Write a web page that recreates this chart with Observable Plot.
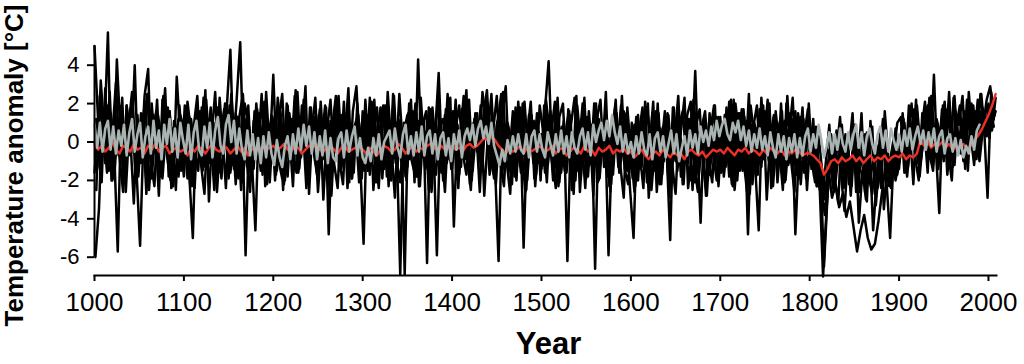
<!DOCTYPE html>
<html><head><meta charset="utf-8">
<script src="https://cdn.jsdelivr.net/npm/d3@7"></script>
<script src="https://cdn.jsdelivr.net/npm/@observablehq/plot@0.6"></script>
<style>html,body{margin:0;padding:0;background:#fff;} #chart svg{display:block;}</style>
</head><body><div id="chart"></div>
<script>
const FONT = "'Liberation Sans', Arial, Helvetica, sans-serif";
const yearTicks = [1000, 1100, 1200, 1300, 1400, 1500, 1600, 1700, 1800, 1900, 2000];
const tempTicks = [-6, -4, -2, 0, 2, 4];

// Black reconstructions: sampled every 4 years, staggered start years
const blackStep = 4;
const blackStarts = [1000, 1001, 1002, 1003, 1002, 1000];
const blackA = [
  5.0, 1.2, -2.1, 2.8, -1.5, 0.4, 3.1, -0.8, -2.6, 1.9, 0.3, -3.2, 1.4, -1.1, 2.4, 3.8, -1.9, 0.6, -2.8, 2.2, -0.4, 1.6, -2.3, 3.4, 0.2,
  -1.8, 2.1, 0.5, -2.4, 1.3, -0.6, 2.7, -3.1, 0.9, -1.2, 2.3, -0.3, 1.8, 4.8, -1.4, 0.7, -2.5, 2.0, 1.1, -0.9, -4.6, 1.5, -1.7, 2.6, -0.5,
  3.5, -1.3, 0.8, -2.2, 1.9, -0.7, 2.4, -1.6, 0.2, 2.9, -2.7, 1.0, -0.4, 1.7, -3.0, 0.6, 2.2, -1.1, -2.4, 1.4, 0.1, 2.8, -1.9, 0.9, -2.1,
  1.6, -0.9, 2.3, -2.5, 0.4, 1.8, -1.4, 2.6, -0.2, -2.9, 1.2, 0.5, -1.8, 2.0, -0.6, 1.5, -2.3, 0.9, -6.3, 1.7, -1.0, 2.4, -0.3, -2.6, 1.1,
  -0.8, 2.2, -1.7, 0.6, 2.7, -2.2, 1.0, -0.5, 1.9, -2.8, 0.3, 2.5, -1.2, -6.2, 1.4, 2.9, -1.5, 0.7, -2.0, 1.8, -5.5, 0.4, 2.1, -1.9, 0.8,
  -1.4, 1.7, 4.2, -0.9, -2.4, 1.3, 2.0, -1.6, 0.5, -2.7, 1.9, -0.2, 2.3, -1.8, 0.9, -6.6, 1.2, -0.7, 2.6, -2.3, 0.3, 1.5, -1.1, -2.9, 1.8,
  -0.5, -2.6, 1.4, -1.3, 2.1, -2.9, 0.2, 1.6, -1.9, 0.8, -0.4, -5.1, 1.8, -1.5, 0.6, 2.3, -2.4, -0.8, 3.7, -1.7, 0.4, -2.8, 1.5, -0.6, -2.0,
  1.3, -1.8, 0.5, 2.2, -2.5, -0.3, 1.7, -1.2, 2.5, -2.2, 0.7, -0.9, 1.9, -3.0, 0.3, 1.4, -1.6, 2.0, -2.1, 0.6, 1.2, -4.8, -0.5, 1.8, -1.9,
  -0.6, 1.2, -2.3, -1.0, -6.5, -2.8, 0.4, -1.9, -3.2, 0.9, -2.0, -0.4, 1.5, -2.6, -1.2, 0.3, -3.1, 1.1, -1.5, -0.2, -2.4, 1.6, -0.8, -2.1, 0.7,
  -1.4, 1.5, -0.8, 0.6, -2.2, 1.9, -0.3, 0.9, -1.6, 2.4, 0.2, -1.1, 1.7, -0.5, 2.6, -1.3, 0.8, 1.9, -0.9, 2.2, 0.4, -1.2, 1.6, 2.5, 0.3,
  1.8, 0.6, 2.3
];
const blackB = [
  -6.0, -3.5, 1.8, -0.9, 2.6, -1.7, 4.3, 0.5, -2.2, 1.3, -0.6, 4.0, -1.8, 0.9, 2.1, -2.5, 0.2, 1.6, -1.3, 2.4, -0.7, -2.0, 1.1, 0.4, -1.5,
  1.9, -0.4, -2.3, 1.2, 0.6, -1.5, 2.2, -0.8, 1.0, -2.6, 0.3, 1.7, -1.1, 2.5, -0.2, -1.9, 1.4, -5.9, 0.8, -1.3, 2.0, -0.5, 1.3, -2.2, 0.6,
  -1.2, 2.3, 0.4, -2.0, 1.5, -0.6, 2.7, -1.4, 0.9, -2.4, 1.8, 0.1, -1.7, 2.1, -0.9, 1.2, -2.8, 0.7, 2.4, -1.0, 0.3, -2.1, 1.6, 2.9, -0.8,
  -5.3, 1.4, -0.7, 2.2, -1.6, 0.5, 1.9, -2.3, 0.8, -1.1, 2.5, -0.3, -2.0, 1.3, 0.6, -1.8, 2.3, -0.5, 1.0, -2.6, 0.4, 3.6, -1.2, 1.7, -0.9,
  1.6, -1.9, 0.3, 2.4, -0.8, -2.5, 1.2, 0.7, -1.4, 2.0, -0.2, 1.5, -2.2, 0.9, 2.6, -1.0, -2.7, 1.3, 0.2, -1.6, 2.1, -0.6, 1.4, -2.3, 0.5,
  -1.1, 2.2, 0.6, -2.0, 1.7, -0.5, 1.1, -6.2, 0.9, 2.3, -1.5, 0.2, -2.4, 1.6, -0.7, 2.0, -1.9, 0.5, 1.3, -2.6, 0.8, -0.3, 1.9, -1.4, -2.2,
  1.0, -2.3, 0.4, 1.8, -1.5, -0.3, 2.1, -2.6, 0.7, -1.0, 1.5, -2.0, 0.2, 2.4, -1.7, -0.6, 1.2, -2.5, 0.9, 1.7, -1.3, -2.8, 0.6, 1.9, -0.9,
  -1.6, 1.4, -0.4, -2.2, 2.0, 0.3, -1.5, 1.1, -2.7, 0.8, 1.9, -1.2, -0.1, 2.2, -2.4, 0.6, -1.0, 1.6, -2.0, 0.4, 2.3, -1.7, -0.6, 1.2, -2.5,
  0.4, -1.8, -0.6, -2.5, -3.8, -1.4, -2.9, -2.2, -3.4, -2.7, -3.9, -3.1, -4.4, -5.7, -4.6, -3.8, -5.0, -5.6, -5.3, -4.1, -2.6, -1.2, -2.3, -0.5, -1.6,
  -0.9, 1.2, -1.8, 0.3, 1.7, -1.1, 0.6, 2.1, -0.7, 1.4, -0.2, -3.7, 1.9, 0.5, -1.3, 2.3, 0.8, -0.6, 1.6, -1.5, 2.0, 0.7, -0.9, 1.8, 1.1,
  0.2, 1.9
];
const blackC = [
  -2.5, 2.4, 0.7, -1.6, 1.5, -0.4, -5.7, 1.9, -1.2, 0.8, 2.6, -2.1, 0.3, 1.4, -2.7, 0.9, -0.6, 2.2, -1.8, 0.5, 1.7, -2.4, -0.2, 1.2, -1.0,
  0.6, -1.7, -5.0, 1.6, -0.8, 2.3, -1.4, 0.4, -2.5, 1.8, -0.1, 2.0, -1.9, 0.7, -2.2, 1.3, 2.5, -0.9, -2.6, 1.1, 0.2, -1.5, 2.1, -0.4, 1.4,
  -2.0, 1.1, 2.5, -1.2, 0.4, -2.3, 1.7, -0.5, 2.2, -1.8, 0.6, 1.3, -2.6, 0.1, 1.9, -4.8, 0.8, 2.4, -1.0, -2.2, 1.5, 0.3, -1.6, 2.0, -0.7,
  1.2, -1.5, 2.1, -0.6, -2.4, 1.6, 0.3, -1.9, 2.5, -0.2, -6.9, 1.0, -1.3, 2.2, -2.1, 4.3, -0.8, 0.5, -2.5, 1.8, -0.4, 1.3, -2.0, 0.7, 2.3,
  -4.4, 0.9, -1.3, 2.2, 0.4, -2.0, 1.5, -0.7, 2.6, 1.1, -1.7, 0.6, 2.4, -1.1, -2.3, 1.0, 0.2, -1.8, 2.1, -0.5, -2.6, 1.4, 0.7, -1.4, 1.9,
  0.5, -2.1, 1.6, -0.9, 2.3, -1.6, 0.2, 1.4, -2.5, 0.8, -0.4, 2.0, -1.9, 0.6, -2.8, 1.2, 2.2, -1.3, 0.1, -2.2, 1.7, -0.8, 2.4, -1.5, 0.3,
  -1.9, 1.3, -0.6, -2.4, 1.8, 0.2, -1.5, 2.0, -2.2, 0.7, 1.4, -1.1, -2.7, 0.9, 1.6, -0.8, -2.0, 2.2, 0.3, -4.2, 1.1, -1.4, 0.5, 1.9, -2.3,
  0.8, -1.3, 2.1, -2.3, 0.5, 1.5, -0.9, -2.6, 1.9, 0.3, -1.7, 2.3, -0.6, 1.0, -2.1, 1.6, -0.3, -2.5, 2.0, 0.6, -1.2, 1.3, -2.2, 0.4, 1.7,
  -1.4, 0.6, -2.2, -3.0, -1.1, 0.9, -2.4, -0.5, 1.3, -1.9, -0.2, -2.8, 0.7, -1.3, 1.5, -2.6, -0.4, 0.8, -3.3, -1.0, 1.2, -2.1, -5.0, -0.6, 1.0,
  1.3, -1.6, 0.5, 2.0, -0.8, -2.0, 1.5, 0.2, 2.3, -1.2, 0.9, -0.3, 1.8, -1.7, 0.4, 2.4, -0.6, 1.2, -1.4, 2.6, 0.1, 1.6, -1.0, 0.8, 2.2,
  2.9, 1.2
];
const blackD = [
  -1.3, 3.2, 0.4, 5.7, -2.0, 1.6, -0.7, 2.3, -2.6, 0.9, 1.8, -1.5, -5.4, 0.6, 2.5, -1.0, -2.3, 1.4, 0.1, 2.8, -1.8, 0.7, -2.5, 1.9, -0.5,
  1.5, -2.2, 0.8, 2.4, -1.1, -2.7, 1.2, 0.3, 2.6, -1.6, 0.5, -2.4, 1.9, -0.6, 2.2, 5.2, -1.4, 0.7, -2.0, 1.6, -0.3, 2.5, -2.3, 0.6, 1.3,
  -1.7, 0.9, -2.5, 2.0, 0.4, -1.3, 2.6, -0.8, 1.1, -2.2, 0.6, 2.3, -1.5, -0.2, 1.8, -2.7, 0.5, 1.5, -1.1, 2.1, -2.4, 0.8, -0.5, 1.4, -1.9,
  2.2, -0.7, 1.3, -2.1, 0.6, 1.9, -1.8, 0.2, 2.4, -1.2, 0.8, -6.9, 1.5, -0.4, 2.0, -2.3, 0.9, 1.6, -1.6, 0.3, -5.9, 1.2, -0.9, 2.5, -1.4,
  0.4, -2.4, 1.7, -0.9, 2.2, -1.5, 0.7, -2.6, 1.3, 2.7, -0.6, -1.9, 1.0, 2.5, -1.3, 0.3, -2.2, 1.8, -0.4, 2.0, -2.5, 0.9, -1.1, 1.5, -2.0,
  1.9, -1.2, 0.5, 2.1, -2.3, 0.8, -0.5, 1.6, -1.8, 2.4, -2.6, 0.3, 1.3, -1.0, 2.0, -2.1, 0.7, 1.1, -5.9, 0.2, 2.2, -1.6, -0.3, 1.5, -2.4,
  -5.0, 1.2, -1.4, 0.5, 2.0, -2.5, -0.2, 1.5, -1.7, 0.9, -2.9, 1.8, -0.6, 0.3, -2.2, 1.4, 2.1, -1.3, -2.6, 0.7, 1.6, -0.9, -2.1, 1.1, 0.2,
  -1.5, 1.8, -0.4, 2.2, -2.0, 0.6, 1.3, -4.8, 0.9, -1.2, -4.6, 1.6, -0.7, 2.0, -2.3, 0.4, 1.1, -1.8, 2.4, -0.9, -2.6, 1.5, 0.3, -1.4, 2.0,
  -1.2, 0.8, -2.1, -7.0, -3.4, -0.9, -2.6, 0.5, -1.7, -3.6, -0.4, -2.3, 0.9, -4.2, -1.5, -3.0, -0.2, -4.6, -2.0, 0.6, -3.5, -1.1, -2.4, 0.3, -1.3,
  0.7, -1.5, 1.9, -0.4, 2.2, -1.8, 0.3, 1.4, -0.9, 3.5, -1.2, 0.6, 2.1, -0.6, -2.0, 1.6, 0.9, 2.4, -1.0, 0.4, 1.9, -0.3, 2.5, 0.9, -2.9,
  2.6, 1.4
];
const blackE = [
  1.2, -1.4, 0.3, 1.9, -0.8, -1.9, 0.9, 1.5, -1.1, 0.2, 1.7, -1.6, -0.4, 1.1, -2.0, 0.6, 1.4, -0.9, -1.7, 0.8, 1.8, -1.2, 0.1, -1.8, 1.0,
  -0.9, 1.3, -1.8, 0.5, 1.6, -1.3, -0.2, 1.8, -1.5, 0.7, -1.9, 1.0, 0.4, -1.2, 1.5, -0.6, -2.1, 1.2, 0.0, -1.4, 1.7, -0.7, 0.9, -1.6, 0.3,
  1.4, -1.0, -1.9, 0.8, 1.5, -0.5, -1.6, 1.1, 0.2, -1.3, 1.8, -0.8, -2.0, 0.6, 1.2, -1.1, 0.4, 1.7, -1.5, -0.3, 1.0, -1.8, 0.7, 1.3, -0.9,
  -1.5, 0.9, 1.6, -1.2, 0.1, -1.9, 1.3, -0.6, 1.7, -1.0, -2.1, 0.5, 1.4, -0.8, -1.6, 1.1, 0.3, -1.4, 1.8, -0.5, -1.7, 0.8, 1.2, -1.1, 0.0,
  1.1, -1.3, 0.6, 1.7, -0.9, -1.8, 1.4, 0.2, -1.2, 1.9, -0.4, -1.6, 0.9, 1.5, -1.0, 0.3, -2.0, 1.2, -0.7, 1.6, -1.4, 0.5, 1.0, -1.7, 0.4,
  -1.2, 1.5, -0.3, -1.9, 1.1, 0.4, -1.5, 1.7, -0.8, -2.0, 0.9, 1.3, -1.1, 0.2, -1.7, 1.6, -0.6, 1.0, -1.8, 0.7, 1.4, -1.3, -0.2, 1.2, -1.6,
  0.6, -1.7, -0.5, 1.3, -2.1, 0.2, 1.1, -1.4, -0.3, 1.6, -1.9, 0.4, -1.0, 1.2, -2.2, 0.8, -0.6, 1.5, -1.6, -0.1, 1.0, -2.0, 0.5, -1.2, 1.3,
  -1.1, 0.9, -1.8, 1.4, 0.1, -1.5, 1.7, -0.7, -2.0, 1.0, 0.3, -1.3, 1.6, -0.9, -1.7, 1.2, 0.5, -1.9, 0.8, 1.5, -1.0, -0.4, 1.3, -1.6, 0.6,
  -0.8, -2.1, 0.3, -1.5, -2.6, -0.4, -1.9, 0.6, -1.2, -2.4, -0.1, -1.6, 0.8, -2.2, -0.9, 0.4, -1.8, -2.7, -0.5, -1.3, 0.7, -2.0, -1.0, 0.2, -1.7,
  -0.5, 1.0, -1.3, 0.6, 1.5, -0.9, 0.2, 1.8, -0.6, -1.5, 1.2, 0.4, -1.0, 1.7, 0.0, -1.2, 1.4, 0.8, -0.7, 2.0, 0.5, -0.9, 1.6, 1.1, 0.3,
  1.7, 0.8
];
const blackF = [
  -1.6, 0.8, 1.7, -1.1, 0.2, -2.0, 1.3, 0.5, -1.4, 1.9, -0.7, 0.9, -1.8, 1.5, 0.0, -1.3, 2.0, -0.5, 1.1, -1.9, 0.6, 1.6, -1.0, -0.3, 1.4,
  0.7, -1.9, 1.2, -0.4, -1.5, 1.8, 0.3, -1.1, 1.4, -2.0, 0.6, -0.8, 1.7, -1.6, 0.1, 1.3, -1.2, -0.5, 1.9, -1.7, 0.4, 1.1, -1.4, 0.8, -2.1,
  0.9, -1.5, 1.6, -0.2, -1.8, 1.2, 0.5, -1.3, 1.9, -0.9, -1.6, 0.7, 1.4, -1.0, 0.2, -2.0, 1.1, -0.6, 1.7, -1.4, -0.3, 1.5, -1.9, 0.6, 1.0,
  -0.7, 1.3, -1.7, 0.4, 1.8, -1.2, -0.1, 1.5, -2.0, 0.8, 1.1, -1.5, 0.3, -0.9, 1.6, -1.8, 0.6, 1.2, -1.1, -2.2, 1.0, 0.1, -1.6, 1.4, -0.4,
  -1.4, 0.7, 1.9, -0.6, -1.7, 1.0, -0.2, 1.5, -1.3, 0.4, 2.0, -1.0, 0.1, 1.4, -1.8, 0.9, -0.8, 1.6, -1.5, 0.3, 1.2, -2.0, 0.6, 1.1, -1.1,
  0.4, -1.6, 1.2, -0.9, 1.7, -2.1, 0.3, -0.6, 1.4, -1.4, 0.8, -1.9, 1.5, -0.3, -1.2, 1.0, -2.0, 0.5, 1.3, -0.8, -1.7, 1.1, -0.4, 1.6, -1.5,
  -1.3, 0.9, -2.0, 1.1, -0.7, -1.6, 1.5, -0.4, -2.2, 0.7, 1.2, -1.5, -0.2, 1.4, -1.8, 0.3, -1.1, 1.6, -2.1, 0.5, -0.8, 1.0, -1.7, 0.2, 1.3,
  0.5, -1.6, 1.2, -0.6, -2.0, 1.5, -0.3, -1.4, 1.0, 0.2, -1.8, 1.7, -0.9, 0.6, -1.5, 1.3, -2.1, 0.4, 1.1, -1.2, -0.5, 1.6, -1.9, 0.8, -0.7,
  -1.1, -0.2, -2.3, -1.4, -3.0, -1.8, 0.1, -2.5, -0.7, -1.6, 0.4, -2.2, -1.0, -0.3, -2.6, -1.3, 0.5, -1.9, -0.6, -2.4, -1.2, 0.2, -1.7, -0.5, -2.0,
  -1.0, 0.5, -1.6, 1.1, -0.4, 1.6, -1.1, 0.3, 1.9, -0.8, 0.7, -1.4, 1.3, 0.1, 2.1, -0.6, 0.9, 1.5, -1.0, 0.4, 1.8, 0.0, 2.2, 0.6, 1.4,
  2.0, 0.9, 1.6
];

// Grey reconstruction: every 3 years, 1000-1990
const grayStart = 1000, grayStep = 3;
const gray = [
  0.9, -0.3, 1.0, -0.5, 0.7, 1.1, -0.4, 0.8, -0.6, 0.6,
  -0.2, 0.9, -0.7, 0.5, 1.2, -0.5, 0.4, 1.0, -0.8, 0.3,
  0.8, -0.6, 1.1, -0.3, 0.6, -0.9, 0.9, -0.1, 1.2, -0.5,
  0.7, -0.8, 1.0, 0.1, -0.6, 0.9, -0.9, 0.5, 1.1, -0.4,
  -0.7, 0.8, -0.3, 1.0, -0.8, 0.6, 1.3, -0.2, -0.6, 0.9,
  1.4, 0.0, 1.1, -0.6, 0.7, -0.4, -0.9, 0.6, -0.7, 0.4,
  -0.9, 0.2, -1.1, 0.3, -0.8, 0.5, -0.6, -1.2, 0.1, -0.8,
  -1.3, -0.2, 0.3, -0.9, 0.4, -0.6, 0.7, -0.4, 0.9, -0.2,
  0.8, -0.6, 0.5, -0.9, 0.3, -0.7, 0.6, -1.1, 0.2, -0.8,
  -1.0, 0.2, 0.5, -0.8, 0.6, -0.5, 0.3, 0.8, -0.7, 0.2,
  -0.8, -1.1, -0.3, -1.0, 0.2, -0.7, 0.4, -0.9, 0.0, 0.3,
  0.6, -0.6, 0.7, -0.3, -0.8, 0.4, 0.9, -0.6, 0.3, -0.7,
  0.5, -0.5, 0.8, -0.7, 0.3, 0.6, -0.6, 0.4, -0.9, 0.2,
  0.5, -0.7, 0.2, -1.0, 0.4, -0.4, 0.6, -0.8, 0.3, 0.7,
  0.1, 0.9, -0.2, 0.7, 1.1, 0.2, 0.8, -0.1, 1.0, -0.2,
  -0.7, -1.2, -0.4, -1.0, 0.1, -0.6, 0.3, -0.5, 0.4, -0.4,
  -0.6, 0.4, -0.8, 0.3, 0.6, -0.5, 0.4, -0.4, -0.8, 0.5,
  -0.1, -0.7, 0.4, -0.5, 0.6, -0.6, 0.3, -0.8, 0.5, -0.3,
  -0.6, 0.3, 0.7, -0.4, 0.5, -0.7, 0.9, 0.0, 0.6, 1.0,
  0.1, 1.1, 0.3, 1.4, 0.5, -0.1, 0.8, -0.5, 0.4, -0.6,
  0.0, -0.8, 0.3, -0.6, 0.5, -0.4, -0.7, 0.4, -0.9, 0.2,
  0.5, -0.5, 0.3, -0.8, -0.1, 0.6, -0.6, 0.4, -1.0, -0.3,
  0.3, -0.7, 0.6, -0.3, 0.4, -0.6, 0.8, 0.0, 0.6, -0.2,
  0.8, 0.1, 1.1, 0.3, 0.9, 1.2, 0.4, 0.1, 1.0, 0.5,
  1.1, 0.1, 0.8, -0.2, 0.6, -0.5, 0.4, -0.3, 0.7, -0.4,
  0.3, -0.7, 0.5, -0.3, -0.8, 0.4, -0.5, 0.3, -0.9, 0.2,
  -0.5, 0.4, -0.8, 0.2, -0.7, 0.3, 0.7, -0.5, 0.4, -0.3,
  0.9, 0.1, -0.8, -0.2, 0.5, -0.6, 0.4, -0.4, 0.7, -0.1,
  -0.5, 0.5, -0.4, 0.4, 0.9, -0.3, 0.5, -0.7, 0.3, 0.7,
  -0.1, -0.6, 0.4, 0.8, -0.3, 0.6, -0.5, 0.7, 0.1, -0.4,
  0.4, -0.5, 0.6, -0.2, 0.7, -0.4, 0.3, 0.8, -0.1, 0.6,
  -0.4, 0.5, -0.2, 0.7, -0.5, 0.3, 0.6, -0.6, 0.2, 0.4,
  -0.5, 0.2, -0.7, 0.1, -0.8, -0.2, -0.6, 0.3, -0.4, 0.6,
  0.9
];

// Red reconstruction: every 4 years, 1000-2008
const redStart = 1000, redStep = 4;
const red = [
  -0.1, -0.4, -0.2, -0.5, -0.3, 0.0, -0.4, -0.6, -0.2, -0.3, -0.5, -0.1, -0.4, -0.3, -0.6, -0.2, -0.4, -0.1, -0.5, -0.3, -0.2, -0.6, -0.4, -0.3, -0.5,
  -0.4, -0.7, -0.3, -0.5, -0.2, -0.4, -0.6, -0.3, -0.1, -0.4, -0.5, -0.2, -0.3, -0.6, -0.4, -0.2, -0.5, -0.3, -0.7, -0.4, -0.3, -0.5, -0.2, -0.4, -0.3,
  -0.2, -0.4, -0.3, -0.1, -0.4, -0.5, -0.2, -0.3, -0.6, -0.4, -0.2, -0.3, -0.1, -0.4, -0.5, -0.3, -0.2, -0.4, -0.6, -0.3, -0.2, -0.5, -0.4, -0.3, -0.2,
  -0.4, -0.6, -0.3, -0.5, -0.7, -0.4, -0.2, -0.3, -0.5, -0.4, -0.1, -0.3, -0.6, -0.4, -0.2, -0.5, -0.3, -0.4, -0.2, -0.1, -0.3, -0.5, -0.2, -0.4, -0.3,
  -0.2, -0.4, -0.3, -0.5, -0.2, -0.1, -0.3, -0.2, 0.0, 0.2, 0.1, 0.3, 0.1, -0.2, -0.4, -0.6, -0.3, -0.5, -0.4, -0.2, -0.6, -0.3, -0.5, -0.4, -0.2,
  -0.3, -0.5, -0.4, -0.2, -0.6, -0.4, -0.3, -0.7, -0.5, -0.3, -0.4, -0.6, -0.2, -0.5, -0.4, -0.7, -0.3, -0.5, -0.4, -0.2, -0.6, -0.4, -0.5, -0.3, -0.6,
  -0.5, -0.8, -0.6, -0.4, -0.7, -0.9, -0.6, -0.5, -0.7, -0.4, -0.6, -0.8, -0.5, -0.7, -0.6, -0.9, -0.5, -0.4, -0.6, -0.7, -0.5, -0.8, -0.6, -0.4, -0.5,
  -0.4, -0.6, -0.3, -0.5, -0.7, -0.4, -0.5, -0.3, -0.6, -0.4, -0.5, -0.7, -0.4, -0.6, -0.3, -0.5, -0.6, -0.4, -0.7, -0.5, -0.6, -0.4, -0.5, -0.7, -0.6,
  -0.6, -0.7, -0.9, -1.1, -1.7, -1.4, -1.0, -0.9, -1.1, -0.8, -1.0, -0.9, -0.7, -1.0, -0.8, -1.1, -0.9, -0.7, -1.0, -0.8, -0.9, -0.7, -1.0, -0.8, -0.7,
  -0.8, -0.6, -0.9, -0.7, -0.8, -0.6, 0.1, -0.2, 0.0, -0.3, -0.1, -0.2, 0.0, -0.3, -0.1, -0.4, -0.2, -0.3, -0.1, -0.4, -0.2, 0.1, 0.3, 0.6, 1.0,
  1.4, 1.9, 2.5
];

function toRows(start, step, values, series) {
  return values.map((v, i) => ({year: start + i * step, value: v, series}));
}
const blackRows = [blackA, blackB, blackC, blackD, blackE, blackF]
  .flatMap((vals, k) => toRows(blackStarts[k], blackStep, vals, k));
const grayRows = toRows(grayStart, grayStep, gray, "gray");
const redRows = toRows(redStart, redStep, red, "red");

const chart = Plot.plot({
  width: 1024,
  height: 364,
  marginLeft: 94,
  marginRight: 28,
  marginTop: 55,
  marginBottom: 89,
  style: {fontFamily: FONT, background: "#fff", color: "#000"},
  x: {domain: [1000, 2009]},
  y: {domain: [-6, 4], range: [256.7, 64.7]},
  marks: [
    Plot.line(blackRows, {x: "year", y: "value", z: "series", stroke: "#000", strokeWidth: 2.5}),
    Plot.line(redRows, {x: "year", y: "value", stroke: "#ee3124", strokeWidth: 2.4}),
    Plot.line(grayRows, {x: "year", y: "value", stroke: "#a9b4b2", strokeWidth: 2.6}),
    Plot.ruleX([1000], {y1: -6, y2: 5, stroke: "#000", strokeWidth: 2}),
    Plot.frame({anchor: "bottom", stroke: "#000", strokeWidth: 2}),
    Plot.axisY({ticks: tempTicks, tickSize: 7, tickPadding: 8, fontSize: 22, strokeWidth: 2,
      tickFormat: d => (d < 0 ? "-" : "") + Math.abs(d), label: null, fontFamily: FONT}),
    Plot.axisX({ticks: yearTicks, tickSize: 6, tickPadding: 11, fontSize: 26, strokeWidth: 2,
      tickFormat: d => String(d), label: null, fontFamily: FONT}),
    Plot.text(["Year"], {frameAnchor: "bottom", dy: 78, dx: 3, lineAnchor: "bottom",
      fontSize: 31, fontWeight: "bold", fontFamily: FONT}),
    Plot.text(["Temperature anomaly [°C]"], {frameAnchor: "left", rotate: -90, dx: -72, lineAnchor: "bottom",
      textAnchor: "middle", fontSize: 26, fontWeight: "bold", fontFamily: FONT})
  ]
});
document.getElementById("chart").appendChild(chart);
</script>
</body></html>
